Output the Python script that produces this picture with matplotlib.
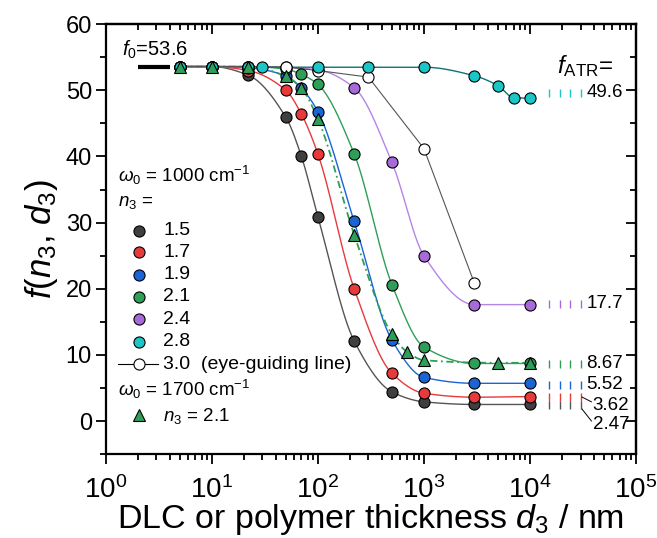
import numpy as np
import matplotlib
matplotlib.use('Agg')
import matplotlib.pyplot as plt
from matplotlib.ticker import MultipleLocator, LogLocator, NullFormatter

plt.rcParams['font.family'] = 'Liberation Sans'
plt.rcParams['mathtext.fontset'] = 'custom'
plt.rcParams['mathtext.rm'] = 'Liberation Sans'
plt.rcParams['mathtext.it'] = 'Liberation Sans:italic'
plt.rcParams['mathtext.bf'] = 'Liberation Sans:bold'

# thickness values d3 (nm) and f(n3, d3)
d_main = [5, 10, 22, 50, 70, 100, 220, 500, 1000, 3000, 10000]
f_15 = [53.6, 53.6, 52.3, 45.9, 40.0, 30.9, 12.1, 4.4, 2.9, 2.5, 2.5]
f_17 = [53.6, 53.6, 53.0, 50.0, 46.4, 40.4, 20.0, 7.2, 4.2, 3.6, 3.7]
f_19 = [53.6, 53.6, 53.4, 52.2, 50.3, 46.8, 30.2, 12.2, 6.6, 5.7, 5.7]
f_21 = [53.6, 53.6, 53.6, 53.2, 52.4, 50.9, 40.4, 20.6, 11.2, 8.7, 8.7]

d_24 = [5, 10, 22, 50, 100, 220, 500, 1000, 3000, 10000]
f_24 = [53.6, 53.6, 53.6, 53.5, 53.1, 50.4, 39.1, 25.0, 17.6, 17.6]

d_28 = [5, 10, 22, 30, 100, 300, 1000, 3000, 5000, 7000, 10000]
f_28 = [53.6, 53.6, 53.6, 53.5, 53.5, 53.5, 53.5, 52.2, 50.7, 48.9, 48.8]

d_30 = [5, 10, 22, 50, 100, 300, 1000, 3000]
f_30 = [53.6, 53.6, 53.6, 53.5, 53.0, 52.0, 41.2, 20.8]

d_tri = [5, 10, 22, 50, 70, 100, 220, 500, 700, 1000, 5000, 10000]
f_tri = [53.6, 53.6, 53.6, 52.1, 50.3, 45.7, 28.2, 13.1, 10.4, 9.2, 8.8, 8.8]

f0 = 53.6
f_atr = [49.6, 17.7, 8.67, 5.52, 3.62, 2.47]
atr_labels = ['49.6', '17.7', '8.67', '5.52', '3.62', '2.47']

n3_labels = ['1.5', '1.7', '1.9', '2.1', '2.4', '2.8']
fills = ['#3f3f3f', '#e8393b', '#1a64d6', '#2e9e58', '#a66bd8', '#1cc6c6']
lines = ['#555555', '#e8393b', '#1a64d6', '#2e9e58', '#b585e6', '#0c7474']
tick_cols = ['#1cc6c6', '#a66bd8', '#2e9e58', '#1a64d6', '#e8393b', '#555555']


def smooth(x, y, n=300):
    # monotone cubic (Fritsch-Carlson) through the points, in log10(x)
    lx = np.log10(np.asarray(x, float))
    y = np.asarray(y, float)
    h = np.diff(lx)
    dl = np.diff(y) / h
    m = np.zeros_like(y)
    m[0], m[-1] = dl[0], dl[-1]
    for k in range(1, len(y) - 1):
        if dl[k - 1] * dl[k] <= 0:
            m[k] = 0
        else:
            w1 = 2 * h[k] + h[k - 1]
            w2 = h[k] + 2 * h[k - 1]
            m[k] = (w1 + w2) / (w1 / dl[k - 1] + w2 / dl[k])
    xs = np.linspace(lx[0], lx[-1], n)
    idx = np.clip(np.searchsorted(lx, xs) - 1, 0, len(h) - 1)
    t = (xs - lx[idx]) / h[idx]
    h00 = 2 * t**3 - 3 * t**2 + 1
    h10 = t**3 - 2 * t**2 + t
    h01 = -2 * t**3 + 3 * t**2
    h11 = t**3 - t**2
    ys = (h00 * y[idx] + h10 * h[idx] * m[idx] + h01 * y[idx + 1]
          + h11 * h[idx] * m[idx + 1])
    return 10**xs, ys


fig = plt.figure(figsize=(6.57, 5.38), dpi=100)
ax = fig.add_axes([0.161, 0.156, 0.807, 0.799])

series = [(d_main, f_15), (d_main, f_17), (d_main, f_19), (d_main, f_21),
          (d_24, f_24), (d_28, f_28)]
mk = dict(marker='o', ms=8, mec='black', mew=0.8, ls='none')

# smooth fitted lines
for (dx, fy), lc in zip(series, lines):
    xs, ys = smooth(dx, fy)
    ax.plot(xs, ys, color=lc, lw=1.0, zorder=2)
xs, ys = smooth(d_tri, f_tri)
ax.plot(xs, ys, color='#2e9e58', lw=1.3, ls=(0, (4, 2, 1, 2)), zorder=2)
ax.plot(d_30, f_30, color='#555555', lw=0.8, zorder=2)

# markers
for i in range(5):
    ax.plot(series[i][0], series[i][1], mfc=fills[i], zorder=3, **mk)
ax.plot(d_30, f_30, mfc='white', zorder=3, **mk)
ax.plot(d_28, f_28, mfc=fills[5], zorder=3, **mk)
ax.plot(d_tri, f_tri, marker='^', ms=9, mfc='#2e9e58', mec='black', mew=0.8,
        ls='none', zorder=4)

# f0 bar
ax.plot([2, 4], [f0, f0], color='black', lw=3, solid_capstyle='butt')
ax.text(1.42, 55.2, r'$f_0$=53.6', fontsize=14.5)

# f_ATR markers and labels
ax.text(3.3e4, 52.6, r'$f_{\rm ATR}$=', fontsize=17.5, ha='center')
tick_x = np.logspace(4.18, 4.48, 4)
for v, c in zip(f_atr, tick_cols):
    ax.plot(tick_x, [v] * 4, ls='none', marker='|', ms=6, mew=1.0, color=c)
for v, lab in zip(f_atr[:4], atr_labels[:4]):
    ax.text(3.4e4, v, lab, fontsize=13.5, va='center')
ax.text(3.9e4, 2.4, atr_labels[4], fontsize=13.5, va='center')
ax.text(3.9e4, -0.5, atr_labels[5], fontsize=13.5, va='center')
ax.plot([3.1e4, 3.8e4], [3.62, 2.9], color='black', lw=0.7)
ax.plot([3.1e4, 3.8e4], [1.8, 0.0], color='black', lw=0.7)

# legend block
ax.text(1.3, 37.2, r'$\omega_0$ = 1000 cm$^{-1}$', fontsize=13.5, va='center')
ax.text(1.3, 33.0, r'$n_3$ =', fontsize=13.5, va='center')
ly = [28.8, 25.5, 22.1, 18.8, 15.4, 12.0]
for y, c, lab in zip(ly, fills, n3_labels):
    ax.plot([2.05], [y], mfc=c, **mk)
    ax.text(3.5, y, lab, fontsize=14, va='center')
ax.plot([1.3, 3.1], [8.6, 8.6], color='black', lw=0.8)
ax.plot([2.05], [8.6], mfc='white', **mk)
ax.text(3.5, 8.6, '3.0  (eye-guiding line)', fontsize=14, va='center')
ax.text(1.3, 4.7, r'$\omega_0$ = 1700 cm$^{-1}$', fontsize=13.5, va='center')
ax.plot([2.05], [0.9], marker='^', ms=9, mfc='#2e9e58', mec='black',
        mew=0.8, ls='none')
ax.text(3.5, 0.7, r'$n_3$ = 2.1', fontsize=13.5, va='center')

ax.set_xscale('log')
ax.set_xlim(1, 1e5)
ax.set_ylim(-5, 60)
ax.yaxis.set_major_locator(MultipleLocator(10))
ax.yaxis.set_minor_locator(MultipleLocator(5))
ax.xaxis.set_major_locator(LogLocator(base=10, numticks=10))
ax.xaxis.set_minor_locator(LogLocator(base=10, subs=np.arange(2, 10), numticks=20))
ax.xaxis.set_minor_formatter(NullFormatter())

for s in ax.spines.values():
    s.set_linewidth(1.6)
ax.tick_params(which='both', direction='out', top=False, right=False, width=1.3)
ax.tick_params(which='major', length=7)
ax.tick_params(which='minor', length=4)
ax.tick_params(axis='y', labelsize=17, pad=3)
ax.tick_params(axis='x', labelsize=20, pad=9)
sec_x = ax.secondary_xaxis('top')
sec_x.tick_params(which='both', direction='in', width=1.3, labeltop=False)
sec_x.tick_params(which='major', length=7)
sec_x.tick_params(which='minor', length=4)
sec_x.xaxis.set_minor_locator(LogLocator(base=10, subs=np.arange(2, 10), numticks=20))
sec_x.xaxis.set_major_formatter(NullFormatter())
sec_x.xaxis.set_minor_formatter(NullFormatter())
sec_x.spines['top'].set_linewidth(1.6)
sec_y = ax.secondary_yaxis('right')
sec_y.tick_params(which='both', direction='in', width=1.3, labelright=False)
sec_y.tick_params(which='major', length=7)
sec_y.tick_params(which='minor', length=4)
sec_y.yaxis.set_major_locator(MultipleLocator(10))
sec_y.yaxis.set_minor_locator(MultipleLocator(5))
sec_y.yaxis.set_major_formatter(NullFormatter())
sec_y.spines['right'].set_linewidth(1.6)

ax.set_xlabel(r'DLC or polymer thickness $d_3$ / nm', fontsize=24.5)
ax.xaxis.set_label_coords(0.5, -0.112)
ax.set_ylabel(r'$f$($n_3$, $d_3$)', fontsize=25, labelpad=4)

fig.savefig('out.png', dpi=100)
